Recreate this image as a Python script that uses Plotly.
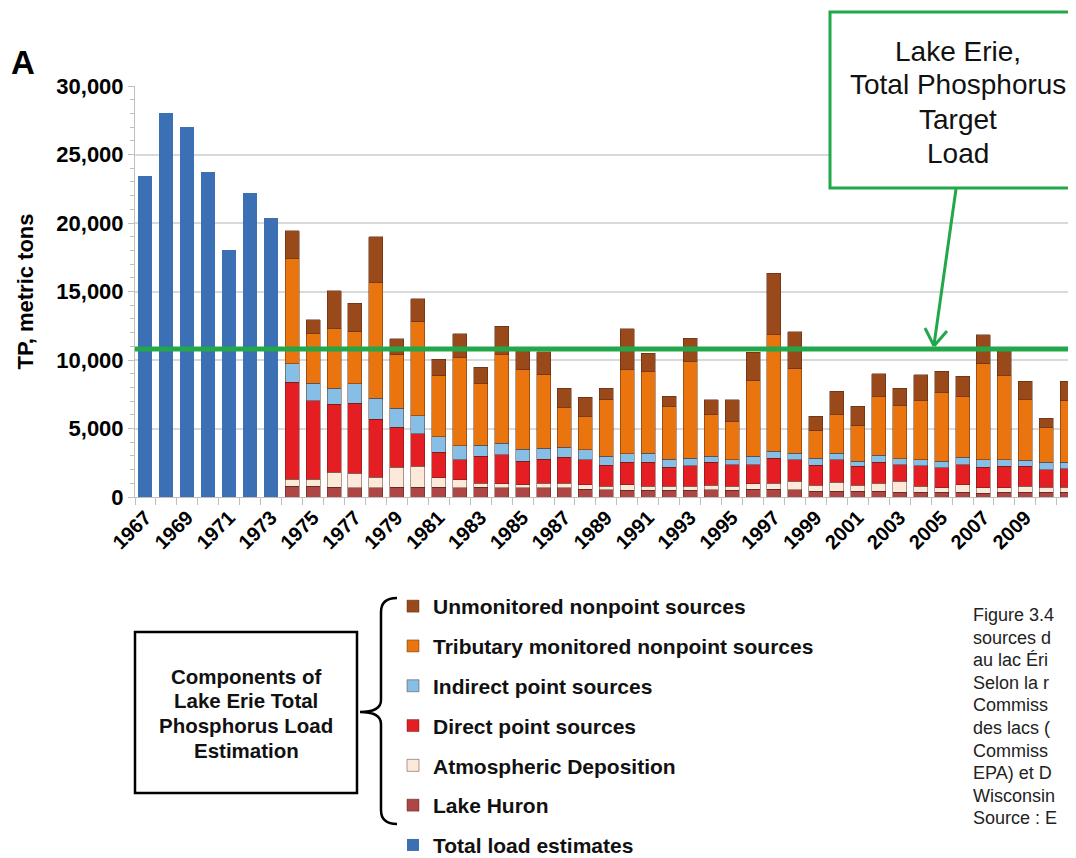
import plotly.graph_objects as go

# ---------------- data ----------------
total_years = [1967, 1968, 1969, 1970, 1971, 1972, 1973]
total_load = [23400, 28000, 27000, 23700, 18000, 22200, 20400]

comp_years = list(range(1974, 2012))
lake_huron = [780, 780, 710, 660, 660, 710, 710, 710, 660, 710,
              660, 660, 660, 660, 580, 530, 490, 490, 490, 490,
              530, 490, 580, 580, 530, 410, 410, 410, 410, 360,
              340, 340, 340, 290, 340, 340, 340, 340]
atmospheric = [530, 530, 1090, 1090, 800, 1480, 1530, 680, 600, 310,
               310, 240, 360, 360, 320, 250, 410, 290, 290, 290,
               320, 290, 390, 440, 610, 440, 680, 440, 610, 780,
               440, 320, 560, 370, 320, 440, 370, 370]
direct_point = [7080, 5720, 4980, 5110, 4230, 2890, 2360, 1870, 1460, 1950,
                2120, 1700, 1750, 1900, 1820, 1530, 1630, 1750, 1410, 1510,
                1700, 1580, 1390, 1820, 1580, 1460, 1630, 1390, 1510, 1220,
                1510, 1460, 1460, 1530, 1580, 1460, 1280, 1360]
indirect_point = [1340, 1290, 1170, 1410, 1530, 1410, 1330, 1120, 1020, 800,
                  850, 900, 800, 700, 730, 660, 630, 680, 580, 550,
                  420, 360, 610, 490, 490, 530, 490, 360, 510, 440,
                  430, 480, 530, 530, 480, 430, 540, 460]
tributary = [7700, 3640, 4380, 3810, 8440, 3890, 6880, 4470, 6470, 4550,
             6490, 5790, 5350, 2920, 2430, 4130, 6180, 5960, 3840, 7060,
             3080, 2800, 5520, 8560, 6150, 2000, 2840, 2600, 4300, 3890,
             4330, 5030, 4450, 7010, 6150, 4480, 2550, 4500]
unmonitored = [2020, 970, 2720, 2070, 3350, 1170, 1660, 1220, 1700, 1140,
               2020, 1410, 1680, 1410, 1390, 850, 2940, 1330, 730, 1700,
               1050, 1580, 2060, 4450, 2720, 1040, 1660, 1410, 1660, 1260,
               1870, 1540, 1460, 2110, 1880, 1290, 680, 1410]
target_load = 10800

label_years = list(range(1967, 2012, 2))

series = [
    ("Lake Huron", lake_huron, "#AE4646"),
    ("Atmospheric Deposition", atmospheric, "#FCE9DA"),
    ("Direct point sources", direct_point, "#E41E22"),
    ("Indirect point sources", indirect_point, "#86BEE6"),
    ("Tributary monitored nonpoint sources", tributary, "#EA740E"),
    ("Unmonitored nonpoint sources", unmonitored, "#9A4A1A"),
]

callout_lines = ["Lake Erie,", "Total Phosphorus", "Target", "Load"]
box_lines = ["Components of", "Lake Erie Total", "Phosphorus Load", "Estimation"]
caption_lines = ["Figure 3.4", "sources d", "au lac Éri", "Selon la r", "Commiss",
                 "des lacs (", "Commiss", "EPA) et D", "Wisconsin", "Source : E"]

FONT = "Liberation Sans, Arial, sans-serif"

# page geometry (the page body adds an 8px offset to the figure)
OFF = 8
FIG_W, FIG_H = 1076 - OFF, 858 - OFF
L, R, T, B = 135, 1076, 86, 497          # plot area in page pixels


def px(x):
    return (x - L) / (R - L)


def py(y):
    return (B - y) / (B - T)


fig = go.Figure()

fig.add_trace(go.Bar(
    x=total_years, y=total_load, name="Total load estimates",
    marker=dict(color="#3C70B5", line=dict(width=0)),
    width=0.67, legendgroup="g0", legendrank=7,
))
for i, (name, vals, col) in enumerate(series):
    fig.add_trace(go.Bar(
        x=comp_years, y=vals, name=name,
        marker=dict(color=col, line=dict(width=0.8, color="rgba(70,35,20,0.55)")),
        width=0.67, legendgroup=f"g{i+1}", legendrank=6 - i,
    ))

G = "#22A84A"
shapes = []
shapes.append(dict(type="line", xref="paper", yref="y", x0=0, x1=1,
                   y0=target_load, y1=target_load,
                   line=dict(color=G, width=5), layer="above"))
shapes.append(dict(type="rect", xref="paper", yref="paper",
                   x0=px(830), x1=px(1110), y0=py(188), y1=py(12),
                   line=dict(color=G, width=3), fillcolor="white"))
shapes.append(dict(type="line", xref="paper", yref="paper",
                   x0=px(956), y0=py(189), x1=px(934), y1=py(345),
                   line=dict(color=G, width=3)))
shapes.append(dict(type="line", xref="paper", yref="paper",
                   x0=px(925), y0=py(328), x1=px(934), y1=py(346),
                   line=dict(color=G, width=3)))
shapes.append(dict(type="line", xref="paper", yref="paper",
                   x0=px(947), y0=py(331), x1=px(934), y1=py(346),
                   line=dict(color=G, width=3)))
shapes.append(dict(type="rect", xref="paper", yref="paper",
                   x0=px(135), x1=px(357), y0=py(793), y1=py(632),
                   line=dict(color="black", width=2.5), fillcolor="white"))


def P(x, y):
    return f"{px(x):.5f},{py(y):.5f}"


brace = (f"M {P(397,598)} Q {P(381,598)} {P(381,612)} L {P(381,700)} "
         f"Q {P(381,712)} {P(360,712)} Q {P(381,712)} {P(381,724)} "
         f"L {P(381,810)} Q {P(381,824)} {P(397,824)}")
shapes.append(dict(type="path", xref="paper", yref="paper", path=brace,
                   line=dict(color="black", width=2.5)))

annotations = [
    dict(text="<b>A</b>", xref="paper", yref="paper", x=px(9), y=py(63),
         xanchor="left", yanchor="middle", showarrow=False,
         font=dict(family=FONT, size=33, color="black")),
]
for i, t in enumerate(callout_lines):
    annotations.append(dict(text=t, xref="paper", yref="paper",
                            x=px(958), y=py(51 + i * 34), xanchor="center",
                            yanchor="middle", showarrow=False,
                            font=dict(family=FONT, size=28, color="#111")))
for i, t in enumerate(box_lines):
    annotations.append(dict(text=f"<b>{t}</b>", xref="paper", yref="paper",
                            x=px(246), y=py(676 + i * 24.7), xanchor="center",
                            yanchor="middle", showarrow=False,
                            font=dict(family=FONT, size=20.5, color="#111")))
for i, t in enumerate(caption_lines):
    annotations.append(dict(text=t, xref="paper", yref="paper",
                            x=px(971), y=py(615 + i * 22.6), xanchor="left",
                            yanchor="middle", showarrow=False,
                            font=dict(family=FONT, size=18, color="#222")))

fig.update_layout(
    width=FIG_W, height=FIG_H,
    margin=dict(l=L - OFF, r=FIG_W - (R - OFF), t=T - OFF, b=FIG_H - (B - OFF),
                autoexpand=False),
    plot_bgcolor="white", paper_bgcolor="white",
    barmode="stack",
    font=dict(family=FONT, color="black"),
    shapes=shapes, annotations=annotations,
    showlegend=True,
    legend=dict(x=px(393), y=py(586), xanchor="left", yanchor="top",
                traceorder="grouped", tracegroupgap=9.5,
                font=dict(family=FONT, size=21, color="#111", weight="bold"),
                bgcolor="rgba(0,0,0,0)"),
    xaxis=dict(range=[1966.5, 1966.5 + (R - L) / 20.95], tickmode="array",
               tickvals=label_years, ticktext=[str(y) for y in label_years],
               tickangle=-45, ticks="", showgrid=False, zeroline=False,
               showline=True, linecolor="#BFBFBF", linewidth=1,
               tickfont=dict(family=FONT, size=20, weight="bold"),
               minor=dict(tickmode="linear", tick0=1966.5, dtick=1, ticks="outside",
                          ticklen=7, tickcolor="#BFBFBF", showgrid=False)),
    yaxis=dict(range=[0, 30000], tickvals=[0, 5000, 10000, 15000, 20000, 25000, 30000],
               tickformat=",", showgrid=True, gridcolor="#D9D9D9", gridwidth=1.5,
               zeroline=False, showline=True, linecolor="#BFBFBF", linewidth=1,
               ticks="outside", ticklen=6, tickcolor="#BFBFBF",
               tickfont=dict(family=FONT, size=22, weight="bold"),
               minor=dict(tickmode="linear", tick0=0, dtick=1000, ticks="outside",
                          ticklen=4, tickcolor="#BFBFBF", showgrid=False),
               title=dict(text="TP, metric tons", standoff=16,
                          font=dict(family=FONT, size=22, weight="bold"))),
)

fig.write_html("out.html")
